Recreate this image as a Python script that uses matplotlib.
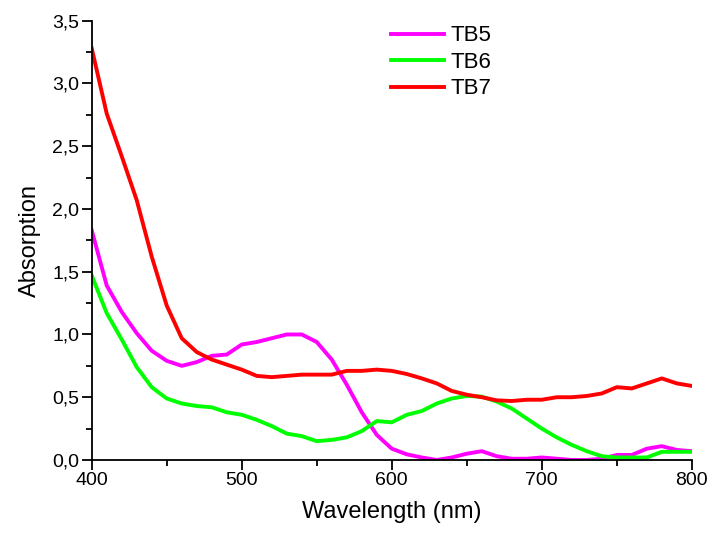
import numpy as np
import matplotlib.pyplot as plt
from matplotlib.ticker import MultipleLocator, FuncFormatter

# spektrum absorpsi, tiap 10 nm dari 400 sampai 800
panjang_gelombang = np.arange(400, 801, 10)

tb5 = [1.83, 1.39, 1.18, 1.01, 0.87, 0.79, 0.75, 0.78, 0.83, 0.84,
       0.92, 0.94, 0.97, 1.00, 1.00, 0.94, 0.80, 0.60, 0.38, 0.20,
       0.09, 0.045, 0.02, 0.00, 0.02, 0.05, 0.07, 0.03, 0.01, 0.01,
       0.02, 0.01, 0.00, 0.00, 0.01, 0.04, 0.04, 0.09, 0.11, 0.08, 0.07]

tb6 = [1.47, 1.17, 0.96, 0.74, 0.58, 0.49, 0.45, 0.43, 0.42, 0.38,
       0.36, 0.32, 0.27, 0.21, 0.19, 0.15, 0.16, 0.18, 0.23, 0.31,
       0.30, 0.36, 0.39, 0.45, 0.49, 0.51, 0.505, 0.465, 0.41, 0.33,
       0.25, 0.18, 0.12, 0.07, 0.03, 0.02, 0.02, 0.02, 0.065, 0.065, 0.065]

tb7 = [3.28, 2.76, 2.42, 2.07, 1.62, 1.23, 0.97, 0.86, 0.80, 0.76,
       0.72, 0.67, 0.66, 0.67, 0.68, 0.68, 0.68, 0.71, 0.71, 0.72,
       0.71, 0.685, 0.65, 0.61, 0.55, 0.52, 0.50, 0.475, 0.47, 0.48,
       0.48, 0.50, 0.50, 0.51, 0.53, 0.58, 0.57, 0.61, 0.65, 0.61, 0.59]

plt.rcParams['font.family'] = ['Liberation Sans', 'DejaVu Sans']

fig = plt.figure(figsize=(7.11, 5.39), dpi=100)
ax = fig.add_axes([0.129, 0.1466, 0.844, 0.815])

ax.plot(panjang_gelombang, tb5, color='#ff00ff', lw=2.8, label='TB5')
ax.plot(panjang_gelombang, tb6, color='#00ff00', lw=2.8, label='TB6')
ax.plot(panjang_gelombang, tb7, color='#ff0000', lw=2.8, label='TB7')

ax.set_xlim(400, 800)
ax.set_ylim(0, 3.5)
ax.xaxis.set_major_locator(MultipleLocator(100))
ax.xaxis.set_minor_locator(MultipleLocator(50))
ax.yaxis.set_major_locator(MultipleLocator(0.5))
ax.yaxis.set_minor_locator(MultipleLocator(0.25))
ax.yaxis.set_major_formatter(FuncFormatter(lambda v, p: f'{v:.1f}'.replace('.', ',')))

ax.spines['top'].set_visible(False)
ax.spines['right'].set_visible(False)
for s in ['left', 'bottom']:
    ax.spines[s].set_linewidth(1.3)
ax.tick_params(which='major', direction='out', length=7, width=1.3, labelsize=14, pad=2)
ax.tick_params(which='minor', direction='out', length=4, width=1.3)

ax.set_xlabel('Wavelength (nm)', fontsize=17, labelpad=8)
ax.set_ylabel('Absorption', fontsize=17, labelpad=8)

ax.legend(loc='upper left', bbox_to_anchor=(0.465, 1.035), frameon=False, fontsize=16,
          handlelength=2.4, handletextpad=0.3, labelspacing=0.25)

plt.savefig('out.png', dpi=100)
